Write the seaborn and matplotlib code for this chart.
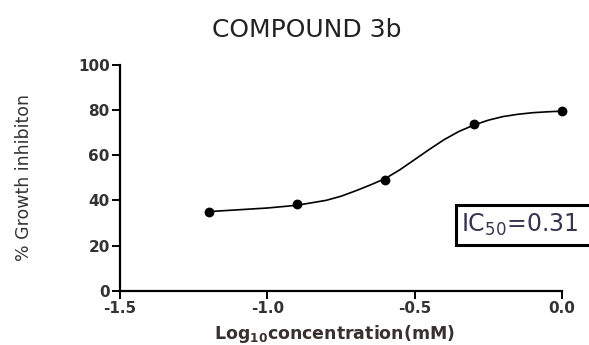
import numpy as np
import pandas as pd
import matplotlib
matplotlib.use("Agg")
import matplotlib.pyplot as plt
import matplotlib.patches as mpatches
import seaborn as sns

# measured points (log10 concentration, % growth inhibition)
log_conc = [-1.2, -0.9, -0.6, -0.3, 0.0]
inhibition = [35.0, 38.3, 48.8, 73.7, 79.3]

# fitted dose-response curve
curve_x = [-1.2, -1.1, -1.0, -0.9, -0.8, -0.75, -0.7, -0.65, -0.6, -0.55, -0.5,
           -0.45, -0.4, -0.35, -0.3, -0.25, -0.2, -0.15, -0.1, -0.05, 0.0]
curve_y = [35.0, 35.8, 36.6, 37.8, 40.0, 41.8, 44.2, 46.8, 49.6, 53.5, 58.0,
           62.5, 66.8, 70.4, 73.2, 75.4, 77.0, 78.0, 78.7, 79.1, 79.4]

x_ticks = [-1.5, -1.0, -0.5, 0.0]
y_ticks = [0, 20, 40, 60, 80, 100]
ic50_label = "IC$_{50}$=0.31"

sns.set_style("ticks")
plt.rcParams["font.family"] = ["DejaVu Sans"]
plt.rcParams["mathtext.fontset"] = "dejavusans"

fig = plt.figure(figsize=(5.89, 3.45), dpi=100)
ax = fig.add_axes([0.204, 0.157, 0.750, 0.656])

curve = pd.DataFrame({"x": curve_x, "y": curve_y})
pts = pd.DataFrame({"x": log_conc, "y": inhibition})

sns.lineplot(data=curve, x="x", y="y", ax=ax, color="black",
             linewidth=1.2, clip_on=False)
sns.scatterplot(data=pts, x="x", y="y", ax=ax, color="black",
                s=50, edgecolor="black", linewidth=0, zorder=5, clip_on=False)

ax.set_xlim(-1.5, 0.0)
ax.set_ylim(0, 100)
ax.set_xticks(x_ticks)
ax.set_xticklabels([f"{v:.1f}" for v in x_ticks])
ax.set_yticks(y_ticks)
for s in ["top", "right"]:
    ax.spines[s].set_visible(False)
for s in ["left", "bottom"]:
    ax.spines[s].set_linewidth(1.6)
    ax.spines[s].set_color("black")
ax.tick_params(axis="both", length=6, width=1.4, colors="black",
               labelsize=11, labelcolor="#333333", pad=1.5)
for lab in ax.get_xticklabels() + ax.get_yticklabels():
    lab.set_fontweight("bold")

ax.set_xlabel("Log$_{\\mathbf{10}}$concentration(mM)", fontsize=12.5,
              fontweight="bold", color="#3a3030")
ax.xaxis.set_label_coords(0.486, -0.14)
ax.set_ylabel("% Growth inhibiton", fontsize=12.5, color="#333333")
ax.yaxis.set_label_coords(-0.197, 0.5)

fig.text(0.521, 0.913, "COMPOUND 3b", ha="center", va="center",
         fontsize=18, color="#222222")

# IC50 box runs off the right edge like in the original
ax.add_patch(mpatches.Rectangle((0.760, 0.203), 0.40, 0.176,
                                transform=ax.transAxes, facecolor="white",
                                edgecolor="black", linewidth=2.2,
                                clip_on=False, zorder=6))
ax.text(0.772, 0.291, ic50_label, transform=ax.transAxes, fontsize=17,
        color="#3a3350", ha="left", va="center", clip_on=False, zorder=7)

plt.savefig("out.png", dpi=100)
plt.close()
